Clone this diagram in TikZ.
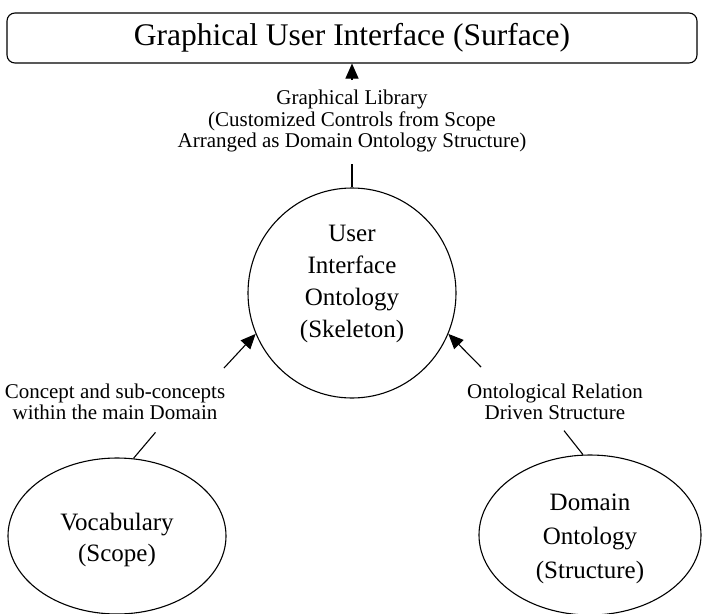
\documentclass[tikz,border=0pt]{standalone}
\usepackage{fontspec}
\setmainfont{Liberation Serif}
\usetikzlibrary{shapes.geometric,arrows.meta}

\begin{document}
\begin{tikzpicture}[x=1pt,y=-1pt,
  every node/.style={align=center},
  bubble/.style={draw,line width=1.1pt,ellipse,inner sep=0pt},
  bubbletext/.style={font=\fontsize{25}{32}\selectfont},
  note/.style={font=\fontsize{21}{21.5}\selectfont},
  link/.style={line width=1.1pt},
  tip/.style={line width=1.1pt,-{Triangle[length=15pt,width=13pt]}}]
 \useasboundingbox (0,0) rectangle (704,613);
 % surface on top
 \node[draw,line width=1.1pt,rounded corners=8pt,minimum width=690pt,minimum height=50pt,
       font=\fontsize{31.5}{34}\selectfont] (gui) at (352,38) {Graphical User Interface (Surface)};
 \node[note] (lib) at (352,121) {Graphical Library\\(Customized Controls from Scope\\Arranged as Domain Ontology Structure)};
 % skeleton in the middle
 \node[bubble,minimum width=208pt,minimum height=210pt] (uio) at (352,293) {};
 \node[bubbletext] (uiotxt) at ([yshift=9pt]uio.center) {User\\Interface\\Ontology\\(Skeleton)};
 % scope and structure below
 \node[bubble,minimum width=218pt,minimum height=156pt] (voc) at (117,536) {};
 \node[bubbletext,font=\fontsize{25}{31}\selectfont] (voctxt) at ([yshift=-4pt]voc.center) {Vocabulary\\(Scope)};
 \node[bubble,minimum width=222pt,minimum height=160pt] (dom) at (590,535) {};
 \node[bubbletext,font=\fontsize{25}{34}\selectfont] (domtxt) at ([yshift=-4pt]dom.center) {Domain\\Ontology\\(Structure)};
 \node[note] (con) at (115,402) {Concept and sub-concepts\\within the main Domain};
 \node[note] (rel) at (555,402) {Ontological Relation\\Driven Structure};
 \coordinate (libtail) at (352,80);
 \coordinate (contail) at (224,368);
 \coordinate (reltail) at (481,367);
 \draw[tip] (libtail) -- (gui.south);
 \draw[link] (uio.north) -- ++(0,-23);
 \draw[tip] (contail) -- (uio.-157);
 \draw[tip] (reltail) -- (uio.-23);
 \draw[link] (voc.78) -- ++(22,-26);
 \draw[link] (dom.95) -- ++(-19,-24);
\end{tikzpicture}
\end{document}
